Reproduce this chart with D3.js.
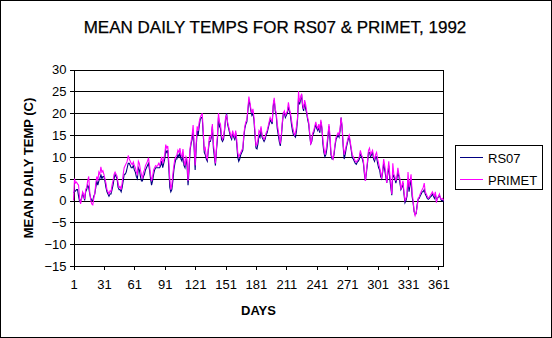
<!DOCTYPE html>
<html><head><meta charset="utf-8">
<script src="https://cdn.jsdelivr.net/npm/d3@7"></script>
<style>
html,body{margin:0;padding:0;background:#fff;}
svg{display:block;font-family:"Liberation Sans",Arial,sans-serif;}
</style></head>
<body>
<svg id="c" width="552" height="338"></svg>
<script>
const title = "MEAN DAILY TEMPS FOR RS07 & PRIMET, 1992";
const xTitle = "DAYS";
const yTitle = "MEAN DAILY TEMP (C)";
const seriesNames = ["RS07", "PRIMET"];
const xTickLabels = [1, 31, 61, 91, 121, 151, 181, 211, 241, 271, 301, 331, 361];
const yTickLabels = [-15, -10, -5, 0, 5, 10, 15, 20, 25, 30];

const primet = [
0,5,4,4.2,3.8,3.5,0.5,-0.8,0.5,2,
1.5,0.3,2.5,3,4.5,5.5,2,0,-0.8,-1,
0.5,1.5,4,5.5,4.5,6.5,6,7.7,6.5,6.8,
6,5,4,2.5,2,1.5,2.2,2,3.5,4.5,
6,6.5,6,5.5,4,3,3.2,2.5,4,6,
7.5,8,8.5,9,10.3,9.5,9,8.5,8.2,8.8,
8,7.5,6.5,6,9,8.5,7,6,5,6.5,
7,8,8.5,9,9.8,8,6,4.5,5.5,7,
7.5,8,7.8,8,8.5,8,9,10,8.5,9.5,
10.5,12.8,12,12.5,9,5,2.5,3.5,6,8,
9.5,10,10.5,11.5,11,12,10.5,10,11.8,9,
8,10,9.5,4.5,8,12,13.5,15,17.3,13,
8,13,17,16,18,19,19.5,20,16,11.5,
12,10,9.5,12,14.5,14,15,17.5,13,11,
8.5,12,15,20,18,17.5,15,14,14.5,16.5,
19,19.5,18,17,16,15,14.5,16,15,14.5,
16,14,11,10,10.5,11,11.5,12,15,17,
18,18.5,21,23.8,22.5,21,20,21,19,16,
12.5,13,14,16,15.5,17,15,14.5,14,14.5,
15.5,16,17,18,19,18.5,18,22,23.5,21,
20,17.5,16,14.5,13,15,18,20,20.5,19.5,
20,20.5,22.5,21,20,18.5,17,16,15,15.5,
17,19,25,22.5,23.5,24.5,22,21,23,22,
20.5,19,18,15.5,12.8,14,15.5,16,17,18,
17,16.5,17.5,16,18.5,17,14,12,10.5,11.5,
13,15,17.5,15,11,10,9.5,11,13,14.5,
15,15.5,15,16.5,19,17,13,10.5,11.5,12.5,
13.5,14.5,15,13.5,12,10.5,10,9.5,9,8.8,
9.2,9.5,10,11.5,10.5,10,9,6.5,4.5,7,
9,11.5,12,10.5,11,11.5,10,9.5,10.5,11,
9.5,8.5,7.5,6.5,5,7,9.5,8,6.5,4,
6.5,9,6,4,1.5,8.5,6,5.5,4.5,5.5,
7.5,6,5,2.5,3.5,4.5,2,0,0.5,1.5,
6.5,3,4.5,6,2,0,-2.5,-3.5,-2.8,-1.5,
0.5,0.8,1.5,2,2.5,3,4,2,1.5,1,
0.5,0.8,1.2,1.5,2,1.5,1,2,-0.5,0.5,
1,1.5,0.5,0.3,0.5,0];

const rs07 = [
1.8,2,2.2,2.5,2.5,1,-0.2,0,0.5,1.5,
1,0,2,2.5,3.5,3,1.5,0.5,0,0,
1,1.5,3,4.5,3.5,4.5,5,6,5,5.5,
5.5,4.5,3,2,1.5,1,1.5,1.5,2.5,3.5,
5,6,5.5,5,3,2.5,2.5,2,3,4.5,
6,6,6.5,7.5,8.5,8.5,8,7.5,7.5,8,
7,6.5,5.5,5,7.5,7,5.5,4.5,4.5,5.5,
6,7,7.5,8,8.5,7,5,3.5,4.5,6,
7,7.5,7.5,7.5,7.5,7.5,8,9,7.5,8.5,
9.5,11.5,11,11.5,7.5,3,2,2.5,4.5,7,
8.5,9.5,9.5,10.5,10,11,9.5,9,10.5,8,
7.5,9.5,8,3.5,7,11.5,13,14,16,12,
7,12,16,15,17,18.5,19,19,15,11,
10.5,9.5,9,11.5,13.5,13.5,14.5,17,12,10,
8,11.5,14,19,17,16.5,14,13.5,14,16,
18.5,20,17.5,16.5,15.5,14.5,14,15.5,14.5,14,
15.5,13,10,9,9.5,10.5,11,11.5,14.5,16.5,
17.5,18,20.5,23,22,20.5,19.5,20,18.5,15,
12,11.8,13,15,14.5,16.5,14.5,14,13.5,14,
15,15.5,16.5,17.5,18.5,18,17.5,21.5,23,20.5,
19.5,16.5,15,13.5,12.5,14.5,17.5,20,20,19,
19.5,20,21.5,20.5,19.5,17.5,16,15,14.8,14.5,
16,18.5,23.5,22,23,24.3,21.5,20.5,22.5,21,
20,18.5,17.5,15,13,13.5,15,15.5,16.5,17.5,
16.5,16,17,15.5,18,16.5,13,11,10,10.5,
12,14.5,17,14,10.5,9.5,9.5,10.5,12.5,14,
14.5,15,14.5,16,19,16.5,12.5,9.5,10.5,12,
13,14,14.5,13,11.5,9.8,9.5,9,8.5,8.3,
8.8,9,9.5,11,10,9.5,8.5,6,4.5,6.5,
8.5,11,11,10,10.5,11,9.5,9,10,10,
8.5,7.5,7,5.5,5,6.5,8.5,7,5.5,4,
6,8,5,3,1.2,6,5.5,5,4,5,
6.5,5.5,4,2.5,3,4,1.5,-0.5,0,1,
5,2,3.5,5,1,-0.5,-2.5,-3.2,-3,-1,
0.3,0.5,1,1.5,2,2,2.5,1.5,1,0.5,
0.3,0.5,0.8,1,1.5,1,0.5,1.5,0,0.5,
0.8,1.2,0.5,0,0,-0.3];

const colors = {RS07: "#000080", PRIMET: "#FF00FF"};
const seriesData = {RS07: rs07, PRIMET: primet};

const svg = d3.select("#c");
const W = 552, H = 338;
const plot = {left: 73.5, right: 443.5, top: 69.5, bottom: 266};

svg.append("rect").attr("x",0.5).attr("y",0.5).attr("width",W-1).attr("height",H-1)
  .attr("fill","#fff").attr("stroke","#000").attr("stroke-width",1);

const x = d3.scaleLinear().domain([1, 366]).range([plot.left, plot.right]);
const y = d3.scaleLinear().domain([-15, 30]).range([plot.bottom, plot.top]);

// gridlines
svg.append("g").selectAll("line").data(yTickLabels).join("line")
  .attr("x1", plot.left).attr("x2", plot.right)
  .attr("y1", d => Math.round(y(d)) + 0.5).attr("y2", d => Math.round(y(d)) + 0.5)
  .attr("stroke", "#000").attr("shape-rendering","crispEdges");

// right border
svg.append("line").attr("x1", plot.right).attr("x2", plot.right)
  .attr("y1", y(30)).attr("y2", y(-15)).attr("stroke","#000").attr("shape-rendering","crispEdges");

// y axis
const yAxis = d3.axisLeft(y).tickValues(yTickLabels).tickSize(4).tickPadding(3);
const gy = svg.append("g").attr("transform", `translate(${plot.left},0)`).call(yAxis);
gy.select(".domain").attr("stroke","#000").attr("shape-rendering","crispEdges");
gy.selectAll(".tick line").attr("shape-rendering","crispEdges");
gy.selectAll("text").attr("font-size", 13).attr("fill","#000")
  .attr("font-family",'"Liberation Sans",Arial,sans-serif');

// x axis
const xAxis = d3.axisBottom(x).tickValues(xTickLabels).tickFormat(d3.format("d")).tickSize(4).tickPadding(10).tickSizeOuter(0);
const gx = svg.append("g").attr("transform", `translate(0,${plot.bottom})`).call(xAxis);
gx.select(".domain").attr("stroke","#000").attr("shape-rendering","crispEdges");
gx.selectAll(".tick line").attr("shape-rendering","crispEdges");
gx.selectAll("text").attr("font-size", 13).attr("fill","#000")
  .attr("font-family",'"Liberation Sans",Arial,sans-serif');

// series lines
const line = d3.line().x((d,i) => x(i + 1)).y(d => y(d));
seriesNames.forEach(name => {
  svg.append("path").datum(seriesData[name])
    .attr("d", line).attr("fill","none")
    .attr("stroke", colors[name]).attr("stroke-width", 1.1);
});

// title
svg.append("text").attr("x", 275).attr("y", 32.5).attr("text-anchor","middle")
  .attr("font-size", 17).attr("fill","#000").attr("stroke","#000").attr("stroke-width",0.25).text(title);

// axis titles
svg.append("text").attr("x", 258.5).attr("y", 315).attr("text-anchor","middle")
  .attr("font-size", 13).attr("font-weight","bold").attr("fill","#000").text(xTitle);
svg.append("text").attr("transform","translate(33,168) rotate(-90)").attr("text-anchor","middle")
  .attr("font-size", 13).attr("font-weight","bold").attr("fill","#000").text(yTitle);

// legend
const lg = svg.append("g");
lg.append("rect").attr("x",455.5).attr("y",145.5).attr("width",87).attr("height",44)
  .attr("fill","#fff").attr("stroke","#000").attr("shape-rendering","crispEdges");
seriesNames.forEach((name, i) => {
  const ly = 157.5 + i * 22;
  lg.append("line").attr("x1",460).attr("x2",483).attr("y1",ly).attr("y2",ly)
    .attr("stroke", colors[name]).attr("shape-rendering","crispEdges");
  lg.append("text").attr("x",488).attr("y",ly + 5).attr("font-size",13).attr("fill","#000").text(name);
});
</script>
</body></html>
